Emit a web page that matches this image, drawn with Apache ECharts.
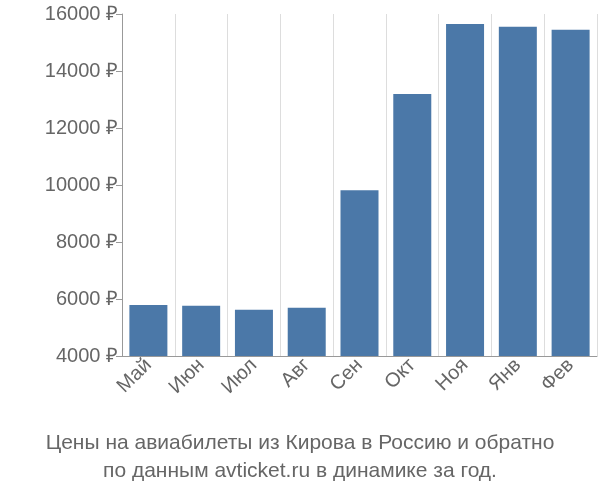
<!DOCTYPE html>
<html><head><meta charset="utf-8">
<script src="https://cdn.jsdelivr.net/npm/echarts@6/dist/echarts.min.js"></script>
<style>html,body{margin:0;padding:0;background:#fff}#c{width:600px;height:500px}</style>
</head><body><div id="c"></div>
<script>
const categories = ["Май","Июн","Июл","Авг","Сен","Окт","Ноя","Янв","Фев"];
const prices = [5790, 5760, 5620, 5690, 9820, 13190, 15650, 15550, 15450];
const yTicks = [4000, 6000, 8000, 10000, 12000, 14000, 16000];
const titleLines = ["Цены на авиабилеты из Кирова в Россию и обратно", "по данным avticket.ru в динамике за год."];

const chart = echarts.init(document.getElementById('c'));
chart.setOption({
  animation: false,
  title: {
    text: titleLines.join('\n'), left: 'center', bottom: 10,
    textStyle: {color: '#666', fontSize: 21, fontWeight: 'normal', lineHeight: 28, fontFamily: 'Liberation Sans'}
  },
  grid: {left: 122, right: 3, top: 14, bottom: 144},
  xAxis: {
    type: 'category', data: categories,
    axisLine: {lineStyle: {color: '#999'}},
    axisTick: {show: false},
    splitLine: {show: true, lineStyle: {color: '#ddd'}},
    axisLabel: {rotate: 45, color: '#666', fontSize: 20, fontFamily: 'Liberation Sans', margin: 6}
  },
  yAxis: {
    type: 'value', min: yTicks[0], max: yTicks[yTicks.length-1], interval: 2000,
    axisLine: {show: true, lineStyle: {color: '#999'}},
    splitLine: {show: false},
    axisTick: {show: true, length: 6, lineStyle: {color: '#999'}},
    axisLabel: {color: '#666', fontSize: 20, fontFamily: 'Liberation Sans', margin: 4, formatter: v => v + ' ₽'}
  },
  series: [{type: 'bar', data: prices, barWidth: '72%', itemStyle: {color: '#4b78a8'}}]
});
</script></body></html>
